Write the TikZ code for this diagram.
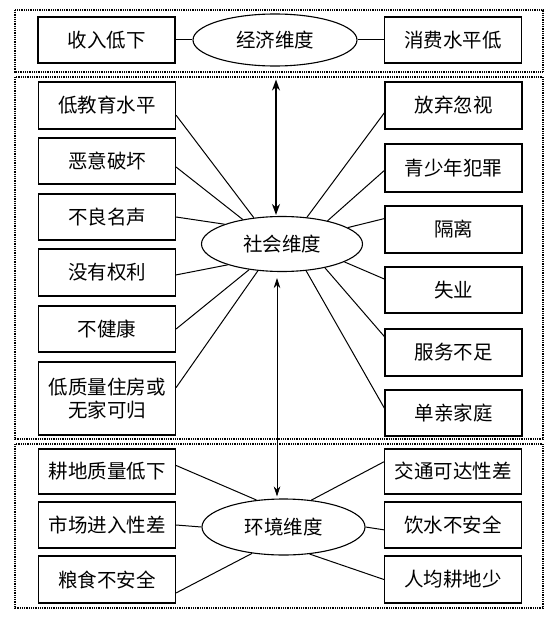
\documentclass[tikz,border=0pt]{standalone}
\usepackage{fontspec}
\newfontfamily\cjk{Noto Sans CJK SC}
\usetikzlibrary{shapes.geometric,arrows.meta}
\begin{document}
\begin{tikzpicture}[x=1pt,y=-1pt,
  every node/.style={font=\cjk\fontsize{19.5}{23.5}\selectfont, inner sep=0pt, align=center},
  box/.style={draw, line width=1.2pt, minimum width=137pt, minimum height=46pt},
  dim/.style={draw, ellipse, line width=1.1pt},
  link/.style={line width=1pt},
  frame/.style={line width=1.3pt, dash pattern=on 0.9pt off 0.9pt},
  bigarrow/.style={line width=1.6pt, {Stealth[length=11pt,width=8pt]}-{Stealth[length=11pt,width=8pt]}},
  smallarrow/.style={line width=0.7pt, {Stealth[length=10pt,width=6.5pt]}-{Stealth[length=10pt,width=6.5pt]}}
]
\useasboundingbox[fill=white] (0,0) rectangle (554,618);
% frames
\draw[frame] (15,10) rectangle (543,72);
\draw[frame] (15,77) rectangle (543,439);
\draw[frame] (15,444) rectangle (543,608);

% economic
\node[box] (a1) at (106.5,40) {收入低下};
\node[box] (a2) at (453,40) {消费水平低};
\node[dim, minimum width=164pt, minimum height=52pt] (econ) at (275,40) {经济维度};
\draw[link] (a1) -- (econ);
\draw[link] (a2) -- (econ);

% social
\node[dim, minimum width=161pt, minimum height=55pt] (soc) at (282,244) {社会维度};
\node[box, minimum height=47pt] (l1) at (107,105.5) {低教育水平};
\node[box] (l2) at (107,161) {恶意破坏};
\node[box] (l3) at (107,217) {不良名声};
\node[box, minimum height=47pt] (l4) at (107,272.5) {没有权利};
\node[box] (l5) at (107,329) {不健康};
\node[box, minimum height=73pt] (l6) at (107,398.5) {低质量住房或\\无家可归};
\node[box, minimum height=47pt] (r1) at (453.5,105.5) {放弃忽视};
\node[box, minimum height=48pt] (r2) at (453.5,168) {青少年犯罪};
\node[box, minimum height=47pt] (r3) at (453.5,229.5) {隔离};
\node[box] (r4) at (453.5,290) {失业};
\node[box, minimum height=47pt] (r5) at (453.5,352.5) {服务不足};
\node[box] (r6) at (453.5,413) {单亲家庭};

\draw[link] (l1.-8) -- (soc.137);
\draw[link] (l2.-5) -- (soc.148);
\draw[link] (l3.east) -- (soc.161);
\draw[link] (l4.-2) -- (soc.201);
\draw[link] (l5.east) -- (soc.218);
\draw[link] (l6.9.5) -- (soc.228);
\draw[link] (r1.186) -- (soc.47);
\draw[link] (r2.182) -- (soc.27.5);
\draw[link] (r3.171) -- (soc.14);
\draw[link] (r4.171) -- (soc.344);
\draw[link] (r5.167) -- (soc.331);
\draw[link] (r6.176) -- (soc.312);

% environment
\node[dim, minimum width=163pt, minimum height=56pt] (env) at (283.5,527) {环境维度};
\node[box, minimum height=45pt] (el1) at (107,471.5) {耕地质量低下};
\node[box] (el2) at (107,525) {市场进入性差};
\node[box, minimum height=47pt] (el3) at (107,579.5) {粮食不安全};
\node[box, minimum height=45pt] (er1) at (453,471.5) {交通可达性差};
\node[box] (er2) at (453,525) {饮水不安全};
\node[box, minimum height=47pt] (er3) at (453,579.5) {人均耕地少};

\draw[link] (el1.5) -- (env.135.5);
\draw[link] (el2.east) -- (env.west);
\draw[link] (el3.-11) -- (env.220);
\draw[link] (er1.172) -- (env.44.5);
\draw[link] (er2.184) -- (env.east);
\draw[link] (er3.west) -- (env.314.5);

% arrows between dimensions
\draw[bigarrow, shorten <=13pt, shorten >=1pt] ([xshift=1pt]econ.south) -- ([xshift=1pt]econ.south |- soc.north);
\draw[smallarrow] ([xshift=2pt,yshift=-6pt]econ.south |- soc.south) -- ([xshift=2pt,yshift=2pt]econ.south |- env.north);
\end{tikzpicture}
\end{document}
